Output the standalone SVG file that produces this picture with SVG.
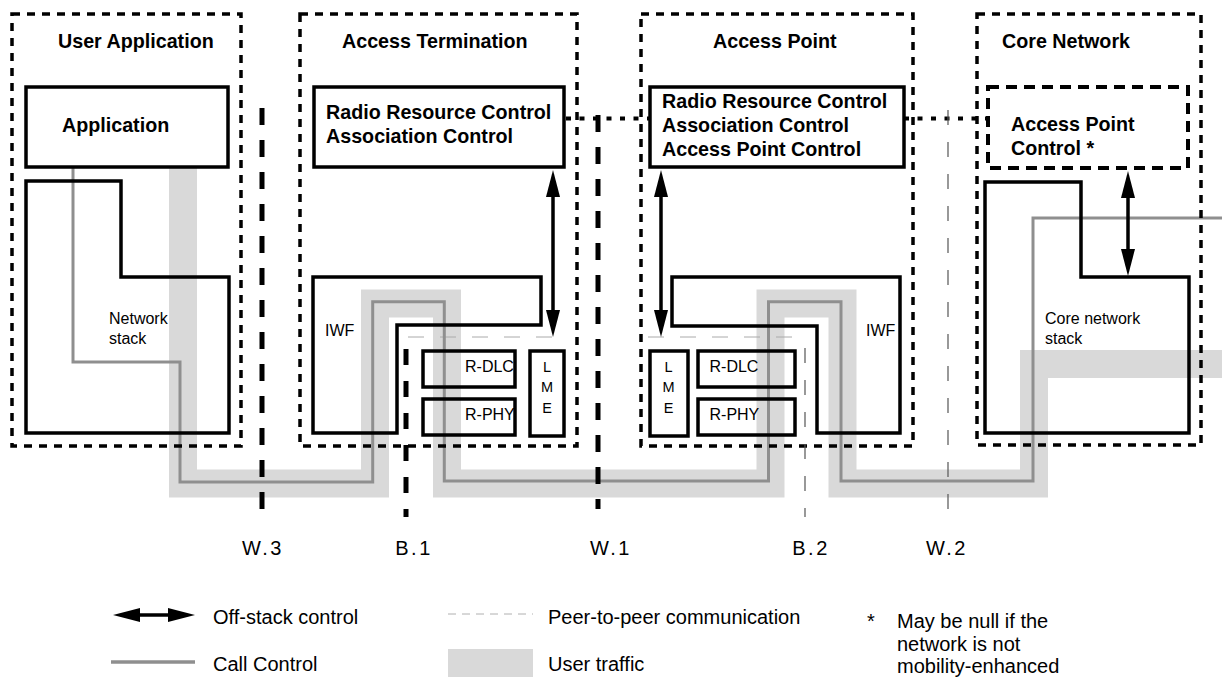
<svg xmlns="http://www.w3.org/2000/svg" width="1222" height="677" viewBox="0 0 1222 677">
<defs>
<style>
.b{font-family:"Liberation Sans",Arial,sans-serif;font-weight:bold;font-size:19.7px;fill:#000}
.s{font-family:"Liberation Sans",Arial,sans-serif;font-size:16px;fill:#000}
.l{font-family:"Liberation Sans",Arial,sans-serif;font-size:20px;fill:#000}
.w{font-family:"Liberation Sans",Arial,sans-serif;font-size:20px;fill:#000;text-anchor:middle;letter-spacing:2.5px}
.lme{font-family:"Liberation Sans",Arial,sans-serif;font-size:14.5px;text-anchor:middle;fill:#000}
.zone{fill:none;stroke:#000;stroke-width:3.5;stroke-dasharray:8 7}
.apc{fill:none;stroke:#000;stroke-width:4;stroke-dasharray:11 7}
.box{fill:none;stroke:#000;stroke-width:3.5}
.traffic{fill:none;stroke:#d9d9d9;stroke-width:28;stroke-linejoin:miter}
.call{fill:none;stroke:#8f8f8f;stroke-width:3}
.peer{fill:none;stroke:#aaa;stroke-width:1;stroke-dasharray:16 16}
.ctl{fill:none;stroke:#000;stroke-width:3.5;marker-start:url(#ah);marker-end:url(#ah)}
.ifw{stroke:#000;stroke-width:5;stroke-dasharray:17 15}
.ifn{stroke:#555;stroke-width:1.2;stroke-dasharray:15 17}
.dot{fill:none;stroke:#000;stroke-width:4;stroke-dasharray:5 8.5}
</style>
<marker id="ah" markerUnits="userSpaceOnUse" markerWidth="27" markerHeight="14" viewBox="0 0 27 14" refX="0" refY="7" orient="auto-start-reverse"><path d="M0,0 L27,7 L0,14 z" fill="#000"/></marker>
</defs>
<rect width="1222" height="677" fill="#fff"/>

<g id="connectors">
  <path class="traffic" d="M183,167 V483.5 H375 V303.5 H447 V483.5 H770.5 V303.5 H842.5 V483.5 H1034 V364 H1230"/>
  <path class="peer" d="M408,337 H553"/>
  <path class="peer" d="M648,337 H793"/>
  <path class="call" d="M73,167 V362 H180 V482 H372.7 V301.7 H444.3 V481 H768.5 V301.7 H841 V481 H1033 V218 H1222"/>
  <path class="dot" d="M566,118.5 H650"/>
  <path class="dot" d="M904,118.5 H988"/>
</g>

<g id="user-application">
  <rect class="zone" x="12" y="14" width="229" height="432"/>
  <text class="b" x="58" y="48">User Application</text>
  <g id="application">
    <rect class="box" x="26" y="87" width="202" height="80"/>
    <text class="b" x="62" y="132">Application</text>
  </g>
  <g id="network-stack">
    <path class="box" d="M26,181 H121 V277 H229 V433 H26 Z"/>
    <text class="s" x="109" y="324">Network</text>
    <text class="s" x="109" y="343.5">stack</text>
  </g>
</g>

<g id="access-termination">
  <rect class="zone" x="300" y="14" width="277" height="432"/>
  <text class="b" x="342" y="48">Access Termination</text>
  <g id="at-control">
    <rect class="box" x="314" y="87" width="250" height="80"/>
    <text class="b" x="326" y="119">Radio Resource Control</text>
    <text class="b" x="326" y="143">Association Control</text>
  </g>
  <g id="at-iwf">
    <path class="box" d="M313,277 H541 V325 H397 V433 H313 Z"/>
    <text class="s" x="325" y="336">IWF</text>
  </g>
  <g id="at-rdlc">
    <rect class="box" x="423" y="351" width="92" height="36"/>
    <text class="s" x="465" y="372">R-DLC</text>
  </g>
  <g id="at-rphy">
    <rect class="box" x="423" y="399" width="92" height="36"/>
    <text class="s" x="465" y="419.5">R-PHY</text>
  </g>
  <g id="at-lme">
    <rect class="box" x="530" y="351" width="34" height="85"/>
    <text class="lme" x="547" y="372">L</text>
    <text class="lme" x="547" y="392">M</text>
    <text class="lme" x="547" y="412.5">E</text>
  </g>
</g>

<g id="access-point">
  <rect class="zone" x="641" y="14" width="272" height="432"/>
  <text class="b" x="713" y="48">Access Point</text>
  <g id="ap-control">
    <rect class="box" x="650" y="87" width="254" height="80"/>
    <text class="b" x="662" y="107.5">Radio Resource Control</text>
    <text class="b" x="662" y="132">Association Control</text>
    <text class="b" x="662" y="156">Access Point Control</text>
  </g>
  <g id="ap-iwf">
    <path class="box" d="M672,277 H900 V433 H817 V326 H672 Z"/>
    <text class="s" x="866" y="336">IWF</text>
  </g>
  <g id="ap-lme">
    <rect class="box" x="650" y="351" width="38" height="85"/>
    <text class="lme" x="668.5" y="372">L</text>
    <text class="lme" x="668.5" y="392">M</text>
    <text class="lme" x="668.5" y="412.5">E</text>
  </g>
  <g id="ap-rdlc">
    <rect class="box" x="698" y="351" width="97" height="36"/>
    <text class="s" x="709.5" y="372">R-DLC</text>
  </g>
  <g id="ap-rphy">
    <rect class="box" x="698" y="399" width="97" height="36"/>
    <text class="s" x="709.5" y="419.5">R-PHY</text>
  </g>
</g>

<g id="core-network">
  <rect class="zone" x="977" y="14" width="224" height="431"/>
  <text class="b" x="1002" y="48">Core Network</text>
  <g id="access-point-control">
    <rect class="apc" x="988" y="87" width="200" height="81"/>
    <text class="b" x="1011" y="131">Access Point</text>
    <text class="b" x="1011" y="155">Control *</text>
  </g>
  <g id="core-network-stack">
    <path class="box" d="M985,182 H1081 V277 H1189 V433 H985 Z"/>
    <text class="s" x="1045" y="324">Core network</text>
    <text class="s" x="1045" y="343.5">stack</text>
  </g>
</g>

<g id="interfaces">
  <line class="ifw" x1="262" y1="108" x2="262" y2="510"/>
  <line class="ifw" x1="406" y1="349" x2="406" y2="517" style="stroke-dasharray:16 16"/>
  <line class="ifw" x1="598" y1="115" x2="598" y2="509"/>
  <line class="ifn" x1="805" y1="348" x2="805" y2="517"/>
  <line class="ifn" x1="948" y1="110" x2="948" y2="510"/>
  <text class="w" x="263" y="555">W.3</text>
  <text class="w" x="414" y="555">B.1</text>
  <text class="w" x="611" y="555">W.1</text>
  <text class="w" x="811" y="555">B.2</text>
  <text class="w" x="947" y="555">W.2</text>
</g>

<g id="control-arrows">
  <path class="ctl" d="M553,197 V310"/>
  <path class="ctl" d="M661,197 V310"/>
  <path class="ctl" d="M1128,198 V249"/>
</g>

<g id="legend">
  <path class="ctl" d="M140,615 H168"/>
  <text class="l" x="213" y="624">Off-stack control</text>
  <path d="M111,662 H195" fill="none" stroke="#8f8f8f" stroke-width="3.5"/>
  <text class="l" x="213" y="671">Call Control</text>
  <path d="M448,614 H533" fill="none" stroke="#b0b0b0" stroke-width="1" stroke-dasharray="8 6"/>
  <text class="l" x="548" y="624">Peer-to-peer communication</text>
  <rect x="448" y="649" width="85" height="28" fill="#d9d9d9"/>
  <text class="l" x="548" y="671">User traffic</text>
  <text class="l" x="867" y="628">*</text>
  <text class="l" x="897" y="628">May be null if the</text>
  <text class="l" x="897" y="651">network is not</text>
  <text class="l" x="897" y="673">mobility-enhanced</text>
</g>
</svg>
